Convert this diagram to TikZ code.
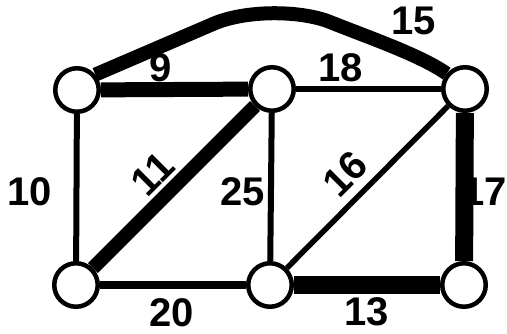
\documentclass[tikz,border=0pt]{standalone}
\usepackage{fontspec}
\setmainfont{Liberation Sans}
\begin{document}
\begin{tikzpicture}[x=1pt,y=-1pt,
  vert/.style={circle,draw,fill=white,line width=4.5pt,minimum size=43.5pt,inner sep=0pt},
  thin/.style={line width=6pt},
  thick edge/.style={line width=15pt},
  lbl/.style={font=\fontsize{40}{44}\selectfont\bfseries,inner sep=0pt}]
\useasboundingbox (0,0) rectangle (507,334);
% labels
\node[lbl] (l9) at (161,68) {9};
\node[lbl] (l15) at (414,21) {15};
\node[lbl] (l18) at (341,68) {18};
\node[lbl] (l10) at (30,192) {10};
\node[lbl,rotate=45] (l11) at (153,174) {11};
\node[lbl] (l25) at (243,192) {25};
\node[lbl,rotate=45] (l16) at (345,174) {16};
\node[lbl] (l17) at (484.5,192) {17};
\node[lbl] (l20) at (172,313) {20};
\node[lbl] (l13) at (367,312) {13};
% vertices
\node[vert] (A) at (77,90) {};
\node[vert] (B) at (272,89) {};
\node[vert] (C) at (465,89) {};
\node[vert] (D) at (76,285) {};
\node[vert] (E) at (270,285) {};
\node[vert] (F) at (464,285) {};
% edges
\draw[thick edge] (A) -- (B);
\draw[line width=14pt] (A.40) -- (213,24) .. controls (245,10) and (300,10) .. (330,22)
   .. controls (370,38) and (420,55) .. (C.140);
\draw[line width=5.5pt] (B) -- (C);
\draw[thin] (A) -- (D);
\draw[line width=14pt] (D) -- (B);
\draw[thin] (B) -- (E);
\draw[line width=5.5pt] (E) -- (C);
\draw[line width=18pt] (C) -- (F);
\draw[line width=7.5pt] (D) -- (E);
\draw[line width=18pt] (E) -- (F);
\end{tikzpicture}
\end{document}
